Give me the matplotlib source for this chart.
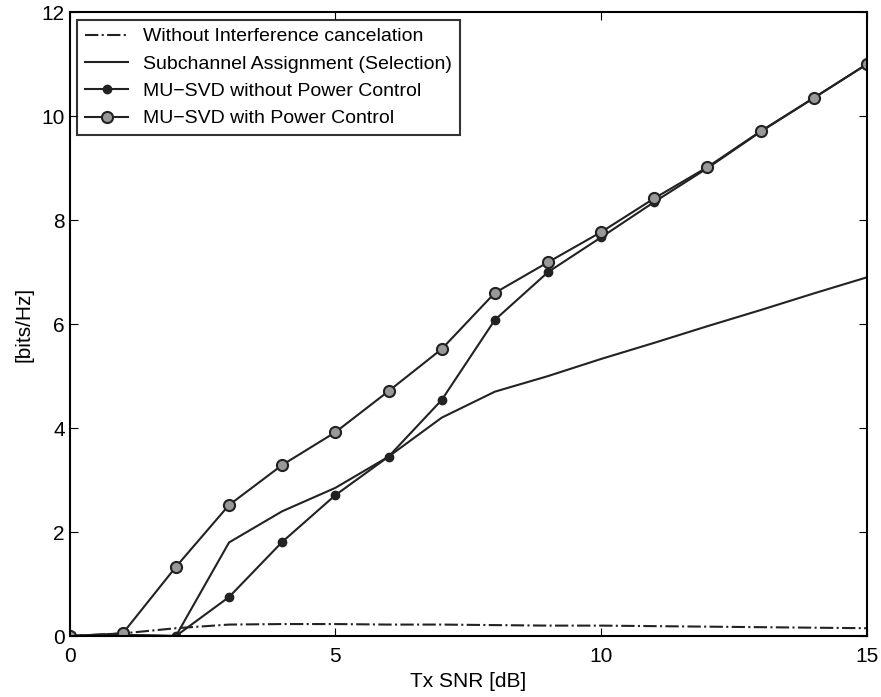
import numpy as np
import matplotlib
matplotlib.use("Agg")
import matplotlib.pyplot as plt

plt.rcParams['font.family'] = ['Liberation Sans', 'DejaVu Sans']

snr = [0, 1, 2, 3, 4, 5, 6, 7, 8, 9, 10, 11, 12, 13, 14, 15]
no_cancel = [0, 0.05, 0.15, 0.22, 0.23, 0.23, 0.22, 0.22, 0.21, 0.2, 0.2, 0.19, 0.18, 0.17, 0.16, 0.15]
subchannel = [0, 0.02, 0, 1.8, 2.4, 2.85, 3.45, 4.2, 4.7, 5.0, 5.33, 5.64, 5.96, 6.27, 6.59, 6.9]
svd_no_pc = [0, 0.02, 0, 0.75, 1.81, 2.71, 3.45, 4.54, 6.08, 7.0, 7.67, 8.35, 9.0, 9.7, 10.35, 11.0]
svd_pc = [0, 0.05, 1.33, 2.52, 3.29, 3.92, 4.71, 5.52, 6.6, 7.19, 7.77, 8.42, 9.02, 9.71, 10.35, 11.0]

fig = plt.figure(figsize=(8.81, 6.97), dpi=100)
ax = fig.add_axes([0.079, 0.0875, 0.905, 0.895])

col = '#222222'
ax.plot(snr, no_cancel, '-.', color=col, lw=1.5, label="Without Interference cancelation")
ax.plot(snr, subchannel, '-', color=col, lw=1.5, label="Subchannel Assignment (Selection)")
ax.plot(snr, svd_no_pc, '-', color=col, lw=1.5, marker='o', ms=6, mfc=col, mec=col,
        label="MU\u2212SVD without Power Control")
ax.plot(snr, svd_pc, '-', color=col, lw=1.5, marker='o', ms=8, mfc='#999999', mec=col, mew=1.5,
        label="MU\u2212SVD with Power Control")

ax.set_xlim(0, 15)
ax.set_ylim(0, 12)
ax.set_xticks([0, 5, 10, 15])
ax.set_yticks([0, 2, 4, 6, 8, 10, 12])
ax.tick_params(direction='in', top=True, right=True, labelsize=15, length=6)
ax.tick_params(axis='x', pad=8)
ax.set_xlabel("Tx SNR [dB]", fontsize=15, labelpad=4)
ax.set_ylabel("[bits/Hz]", fontsize=15, labelpad=6)
for s in ax.spines.values():
    s.set_linewidth(1.5)

leg = ax.legend(loc='upper left', fontsize=14, frameon=True, fancybox=False,
                edgecolor='black', borderaxespad=0.4, handlelength=2.2,
                labelspacing=0.5, borderpad=0.4)
leg.get_frame().set_linewidth(1.5)

fig.savefig("out.png", dpi=100)
